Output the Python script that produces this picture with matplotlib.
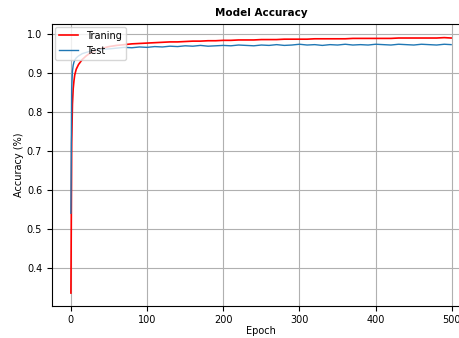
import matplotlib.pyplot as plt

epochs = [0, 1, 2, 3, 4, 5, 7, 10, 15, 20, 25, 30, 40, 50, 60, 70, 80, 90, 100,
          110, 120, 130, 140, 150, 160, 170, 180, 190, 200, 210, 220, 230, 240,
          250, 260, 270, 280, 290, 300, 310, 320, 330, 340, 350, 360, 370, 380,
          390, 400, 410, 420, 430, 440, 450, 460, 470, 480, 490, 499]

train_acc = [0.335, 0.72, 0.82, 0.86, 0.88, 0.895, 0.91, 0.922, 0.935, 0.944, 0.951, 0.956,
             0.963, 0.968, 0.971, 0.973, 0.975, 0.976, 0.977, 0.978, 0.979, 0.980, 0.980,
             0.981, 0.982, 0.982, 0.983, 0.983, 0.984, 0.984, 0.985, 0.985, 0.985, 0.986,
             0.986, 0.986, 0.987, 0.987, 0.987, 0.987, 0.988, 0.988, 0.988, 0.988, 0.988,
             0.989, 0.989, 0.989, 0.989, 0.989, 0.989, 0.990, 0.990, 0.990, 0.990, 0.990,
             0.990, 0.991, 0.990]

test_acc = [0.54, 0.86, 0.905, 0.92, 0.928, 0.933, 0.939, 0.944, 0.950, 0.953, 0.956, 0.958,
            0.961, 0.962, 0.964, 0.966, 0.965, 0.967, 0.966, 0.968, 0.967, 0.969, 0.968,
            0.970, 0.969, 0.971, 0.969, 0.970, 0.971, 0.970, 0.972, 0.971, 0.970, 0.972,
            0.971, 0.973, 0.971, 0.972, 0.974, 0.972, 0.973, 0.971, 0.973, 0.972, 0.974,
            0.972, 0.973, 0.972, 0.974, 0.973, 0.972, 0.974, 0.973, 0.972, 0.974, 0.973,
            0.972, 0.974, 0.973]

plt.rcParams['font.size'] = 7
fig = plt.figure(figsize=(4.59, 3.38), dpi=100)
ax = fig.add_axes([0.113, 0.095, 0.913, 0.834])

ax.plot(epochs, train_acc, color='red', linewidth=1.2, label='Traning')
ax.plot(epochs, test_acc, color='tab:blue', linewidth=1.0, label='Test')

ax.set_title('Model Accuracy', fontweight='bold', fontsize=7.5)
ax.set_xlabel('Epoch', labelpad=1)
ax.set_ylabel('Accuracy (%)', labelpad=2)
ax.tick_params(axis='x', pad=3)
ax.set_xlim(-25, 525)
ax.set_ylim(0.302, 1.026)
ax.grid(True)
ax.legend(loc='upper left', borderaxespad=0.3)

plt.savefig('out.png', dpi=100)
